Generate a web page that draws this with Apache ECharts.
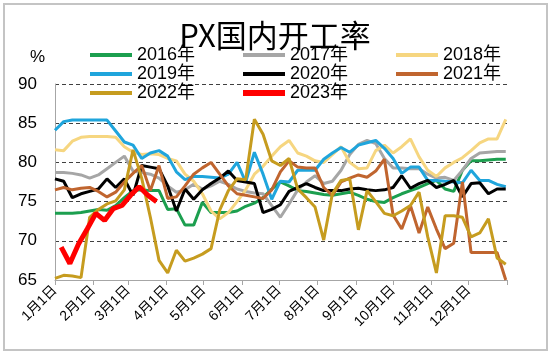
<!DOCTYPE html>
<html>
<head>
<meta charset="utf-8">
<script src="https://cdn.jsdelivr.net/npm/echarts@6.0.0/dist/echarts.min.js"></script>
<style>
  html, body { margin: 0; padding: 0; background: #fff; }
  #frame { position: absolute; left: 3px; top: 3px; width: 545px; height: 348px; border: 2px solid #c4c4c4; box-sizing: border-box; }
  #chart { position: absolute; left: 0; top: 0; width: 550px; height: 354px; }
</style>
</head>
<body>
<div id="frame"></div>
<div id="chart"></div>
<script>
// day of year of each weekly reading
const weekDays = [0, 7, 14, 21, 28, 35, 42, 49, 56, 63, 70, 77, 84, 91, 98, 105, 112, 119, 126, 133,
  140, 147, 154, 161, 168, 175, 182, 189, 196, 203, 210, 217, 224, 231, 238, 245, 252, 259, 266, 273,
  280, 287, 294, 301, 308, 315, 322, 329, 336, 343, 350, 357, 364];
const days2023 = [5, 12, 19, 26, 33, 40, 47, 54, 61, 68, 75, 82];

// month starts (day of year) and their labels
const monthStarts = [0, 31, 59, 90, 120, 151, 181, 212, 243, 273, 304, 334, 365];
const monthLabels = ['1月1日', '2月1日', '3月1日', '4月1日', '5月1日', '6月1日',
  '7月1日', '8月1日', '9月1日', '10月1日', '11月1日', '12月1日'];

const y2016 = [73.5, 73.5, 73.5, 73.6, 73.8, 74.0, 73.9, 74.5, 75.5, 76.4, 76.5, 76.4, 76.4, 74.0, 74.1, 72.0, 72.0, 74.9,
  73.6, 73.6, 73.6, 73.8, 74.4, 74.8, 75.5, 76.6, 77.5, 77.0, 76.4, 76.3, 76.1, 75.9, 75.8, 76.0, 76.2, 75.8,
  75.3, 75.0, 74.9, 75.5, 76.0, 76.4, 76.8, 77.3, 77.7, 76.6, 76.3, 79.0, 80.2, 80.2, 80.3, 80.4, 80.4];
const y2017 = [78.7, 78.7, 78.6, 78.4, 78.0, 78.4, 79.2, 80.0, 80.8, 78.9, 78.7, 78.5, 78.0, 77.0, 76.2, 76.5, 77.2, 76.6,
  77.0, 77.6, 77.2, 76.6, 76.3, 76.1, 76.0, 74.5, 73.0, 74.7, 76.5, 77.5, 78.3, 77.3, 77.6, 79.0, 81.0, 82.3,
  82.8, 82.4, 80.5, 79.3, 79.3, 79.2, 79.2, 78.5, 78.0, 78.1, 77.7, 79.0, 80.5, 81.2, 81.3, 81.4, 81.4];
const y2018 = [81.6, 81.5, 82.7, 83.2, 83.3, 83.3, 83.3, 83.2, 82.0, 81.3, 81.0, 81.1, 81.0, 80.5, 80.2, 78.5, 77.6, 76.0,
  73.8, 72.8, 73.6, 75.0, 76.5, 78.5, 79.5, 80.8, 82.0, 82.8, 81.2, 80.8, 80.2, 80.0, 81.0, 82.0, 80.0, 79.2,
  79.3, 81.5, 82.2, 81.2, 82.0, 83.0, 80.7, 79.0, 78.2, 79.3, 80.0, 80.6, 81.5, 82.5, 83.0, 83.0, 85.5];
const y2019 = [84.1, 85.2, 85.4, 85.4, 85.4, 85.4, 85.4, 84.0, 82.6, 82.2, 80.5, 81.2, 81.5, 80.8, 78.8, 77.8, 78.2, 78.2,
  78.1, 78.0, 78.5, 80.0, 77.5, 81.3, 78.5, 75.3, 77.6, 77.5, 79.0, 79.0, 79.0, 80.4, 81.2, 81.9, 81.3, 82.2,
  82.5, 82.8, 81.8, 80.5, 78.6, 79.4, 79.4, 77.7, 77.7, 77.6, 77.5, 77.4, 79.0, 77.7, 77.7, 77.2, 76.9];
const y2020 = [77.9, 77.6, 75.5, 76.0, 76.3, 76.6, 77.9, 76.8, 77.9, 75.8, 79.6, 79.4, 79.2, 77.0, 73.8, 76.6, 75.3, 76.5,
  77.3, 78.0, 78.9, 77.7, 77.5, 77.3, 73.6, 74.0, 74.6, 76.3, 76.8, 77.3, 76.8, 76.4, 76.4, 76.4, 76.6, 76.7,
  76.5, 76.4, 76.5, 76.8, 78.3, 76.7, 77.3, 77.7, 76.8, 77.2, 77.7, 75.6, 77.3, 77.4, 76.0, 76.6, 76.6];
const y2021 = [76.5, 76.8, 76.5, 76.7, 76.8, 76.3, 75.6, 76.2, 77.5, 78.6, 79.6, 76.4, 79.6, 75.4, 75.6, 77.0, 78.5, 79.3,
  80.0, 78.5, 77.0, 76.0, 75.8, 75.6, 75.4, 76.5, 78.8, 80.2, 79.4, 79.3, 79.3, 76.8, 75.8, 77.5, 78.0, 78.4,
  78.1, 78.9, 80.4, 73.3, 71.5, 74.5, 71.0, 74.3, 71.5, 69.0, 69.7, 77.5, 68.5, 68.5, 68.5, 68.5, 65.0];
const y2022 = [65.2, 65.6, 65.5, 65.3, 73.0, 74.0, 74.7, 75.1, 76.5, 81.6, 78.0, 73.0, 67.5, 65.9, 68.8, 67.4, 67.8, 68.3,
  69.0, 73.9, 76.4, 77.9, 77.8, 85.5, 83.6, 80.2, 79.6, 80.5, 76.6, 75.5, 74.3, 70.1, 76.0, 77.7, 77.9, 71.4,
  76.4, 75.0, 73.5, 73.2, 73.8, 74.5, 76.2, 70.5, 65.9, 73.2, 73.2, 73.0, 70.5, 71.0, 72.8, 67.8, 67.0];
const y2023 = [69.2, 67.1, 69.6, 71.5, 73.5, 72.6, 74.1, 74.5, 75.8, 76.9, 75.8, 75.0];

const seriesDefs = [
  { name: '2016年', days: weekDays, values: y2016, color: '#1c9f4f', width: 3 },
  { name: '2017年', days: weekDays, values: y2017, color: '#a6a6a6', width: 3 },
  { name: '2018年', days: weekDays, values: y2018, color: '#f6d680', width: 3 },
  { name: '2019年', days: weekDays, values: y2019, color: '#1fa5dc', width: 3 },
  { name: '2020年', days: weekDays, values: y2020, color: '#000000', width: 3 },
  { name: '2021年', days: weekDays, values: y2021, color: '#c0652f', width: 3 },
  { name: '2022年', days: weekDays, values: y2022, color: '#c69c1f', width: 3 },
  { name: '2023年', days: days2023, values: y2023, color: '#ff0000', width: 5 }
];

const font = "'Liberation Sans', 'Noto Sans CJK SC', sans-serif";

function legendCol(left, top, names, h) {
  return {
    left: left, top: top, orient: 'vertical', padding: 0, itemGap: 1,
    itemWidth: 42, itemHeight: h || 4, icon: 'rect',
    data: names,
    textStyle: { fontSize: 18, color: '#000', fontFamily: font, lineHeight: 18 }
  };
}

const chart = echarts.init(document.getElementById('chart'));
chart.setOption({
  animation: false,
  backgroundColor: 'transparent',
  title: {
    text: 'PX国内开工率',
    left: 'center',
    top: 15,
    textStyle: { fontSize: 31, fontWeight: 'normal', color: '#000', fontFamily: "'Noto Sans CJK SC', sans-serif" }
  },
  legend: [
    legendCol(90, 46, ['2016年', '2019年', '2022年']),
    legendCol(243, 46, ['2017年', '2020年']),
    legendCol(243, 84, ['2023年'], 6),
    legendCol(396, 46, ['2018年', '2021年'])
  ],
  grid: { left: 55, right: 43, top: 84, bottom: 74 },
  xAxis: {
    type: 'value',
    min: 0,
    max: 365,
    axisLine: { onZero: false, lineStyle: { color: '#a6a6a6', width: 1 } },
    axisTick: { show: true, customValues: monthStarts, length: 5, lineStyle: { color: '#a6a6a6' } },
    axisLabel: {
      customValues: monthStarts.slice(0, 12),
      rotate: 45,
      margin: 8,
      fontSize: 14,
      color: '#000',
      fontFamily: font,
      formatter: function (v) { return monthLabels[monthStarts.indexOf(v)] || ''; }
    },
    splitLine: { show: false }
  },
  yAxis: {
    type: 'value',
    min: 65,
    max: 90,
    interval: 5,
    name: '%',
    nameLocation: 'end',
    nameGap: 18,
    nameTextStyle: { fontSize: 17, color: '#000', fontFamily: font, align: 'right', padding: [0, 10, 0, 0] },
    axisLine: { show: true, lineStyle: { color: '#a6a6a6', width: 1 } },
    axisTick: { show: false },
    axisLabel: { fontSize: 17, color: '#000', fontFamily: font, margin: 18 },
    splitLine: { show: true, showMinLine: false, lineStyle: { type: [4, 3], color: '#404040', width: 1 } }
  },
  series: seriesDefs.map(function (s) {
    return {
      name: s.name,
      type: 'line',
      symbol: 'none',
      color: s.color,
      lineStyle: { color: s.color, width: s.width },
      data: s.days.map(function (d, i) { return [d, s.values[i]]; })
    };
  })
});
</script>
</body>
</html>
